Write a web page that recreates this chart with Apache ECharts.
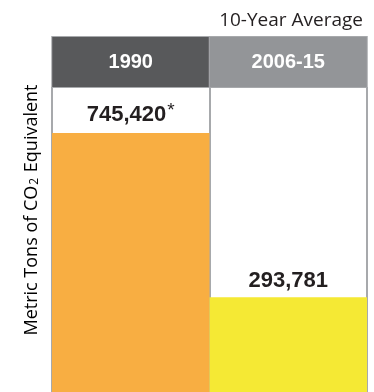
<!DOCTYPE html>
<html>
<head>
<meta charset="utf-8">
<script src="https://cdn.jsdelivr.net/npm/echarts@6/dist/echarts.min.js"></script>
<style>
  html, body { margin: 0; padding: 0; background: #fff; }
  #line_wrapper { width: 374px; height: 392px; }
</style>
</head>
<body>
<div id="line_wrapper"></div>
<script>
// chart data
const categories = ["1990", "2006-15"];
const values = [745420, 293781];
const footnotes = ["*", ""];
const barColors = ["#f8ae42", "#f5e934"];
const headerColors = ["#58595b", "#939598"];
const topNote = "10-Year Average";

const borderGray = "#a7a9ac";
const textColor = "#231f20";

const headerRich = {};
categories.forEach((c, i) => {
  headerRich["h" + i] = {
    backgroundColor: headerColors[i],
    borderColor: borderGray,
    borderWidth: 1,
    width: 157,
    height: 50,
    lineHeight: 50,
    align: "center",
    color: "#fff",
    fontSize: 20,
    fontWeight: "bold",
    fontFamily: "Liberation Sans, Arial, sans-serif"
  };
});

const option = {
  animation: false,
  title: {
    text: topNote,
    right: 6,
    top: 6,
    textStyle: {
      fontSize: 19,
      fontWeight: "normal",
      color: textColor,
      fontFamily: "Open Sans, sans-serif"
    }
  },
  grid: {
    left: 52,
    right: 7,
    top: 87,
    bottom: 0
  },
  xAxis: {
    type: "category",
    position: "top",
    data: categories,
    axisLine: { show: false },
    axisTick: { show: false },
    splitLine: {
      show: true,
      interval: 0,
      lineStyle: { color: borderGray, width: 2 }
    },
    axisLabel: {
      margin: 0,
      interval: 0,
      formatter: function(value, index) {
        return "{h" + index + "|" + value + "}";
      },
      rich: headerRich
    }
  },
  // axis starts above zero: the bars run off the bottom edge in the original
  yAxis: {
    type: "value",
    min: 33000,
    max: 872000,
    show: false
  },
  graphic: [
    {
      type: "text",
      x: 32,
      y: 210,
      rotation: Math.PI / 2,
      style: {
        text: "{t|Metric Tons of CO}{s|2}{t| Equivalent}",
        align: "center",
        verticalAlign: "middle",
        rich: {
          t: { fontSize: 18, color: textColor, fontFamily: "Open Sans, sans-serif" },
          s: { fontSize: 12, color: textColor, fontFamily: "Open Sans, sans-serif", verticalAlign: "bottom", padding: [6, 1, 0, 1] }
        }
      }
    }
  ],
  series: [
    {
      type: "bar",
      barCategoryGap: 0,
      data: values.map((v, i) => ({
        value: v,
        itemStyle: { color: barColors[i] }
      })),
      label: {
        show: true,
        position: "top",
        distance: 5,
        formatter: function(p) {
          const s = "{v|" + p.value.toLocaleString("en-US") + "}";
          return footnotes[p.dataIndex] ? s + "{s|" + footnotes[p.dataIndex] + "}" : s;
        },
        rich: {
          v: {
            fontSize: 22,
            fontWeight: "bold",
            color: textColor,
            fontFamily: "Liberation Sans, Arial, sans-serif"
          },
          s: {
            fontSize: 19,
            color: textColor,
            fontFamily: "Liberation Sans, Arial, sans-serif",
            verticalAlign: "top",
            padding: [0, 0, 8, 1]
          }
        }
      }
    }
  ]
};

const myChart = echarts.init(document.getElementById("line_wrapper"));
myChart.setOption(option);
</script>
</body>
</html>
